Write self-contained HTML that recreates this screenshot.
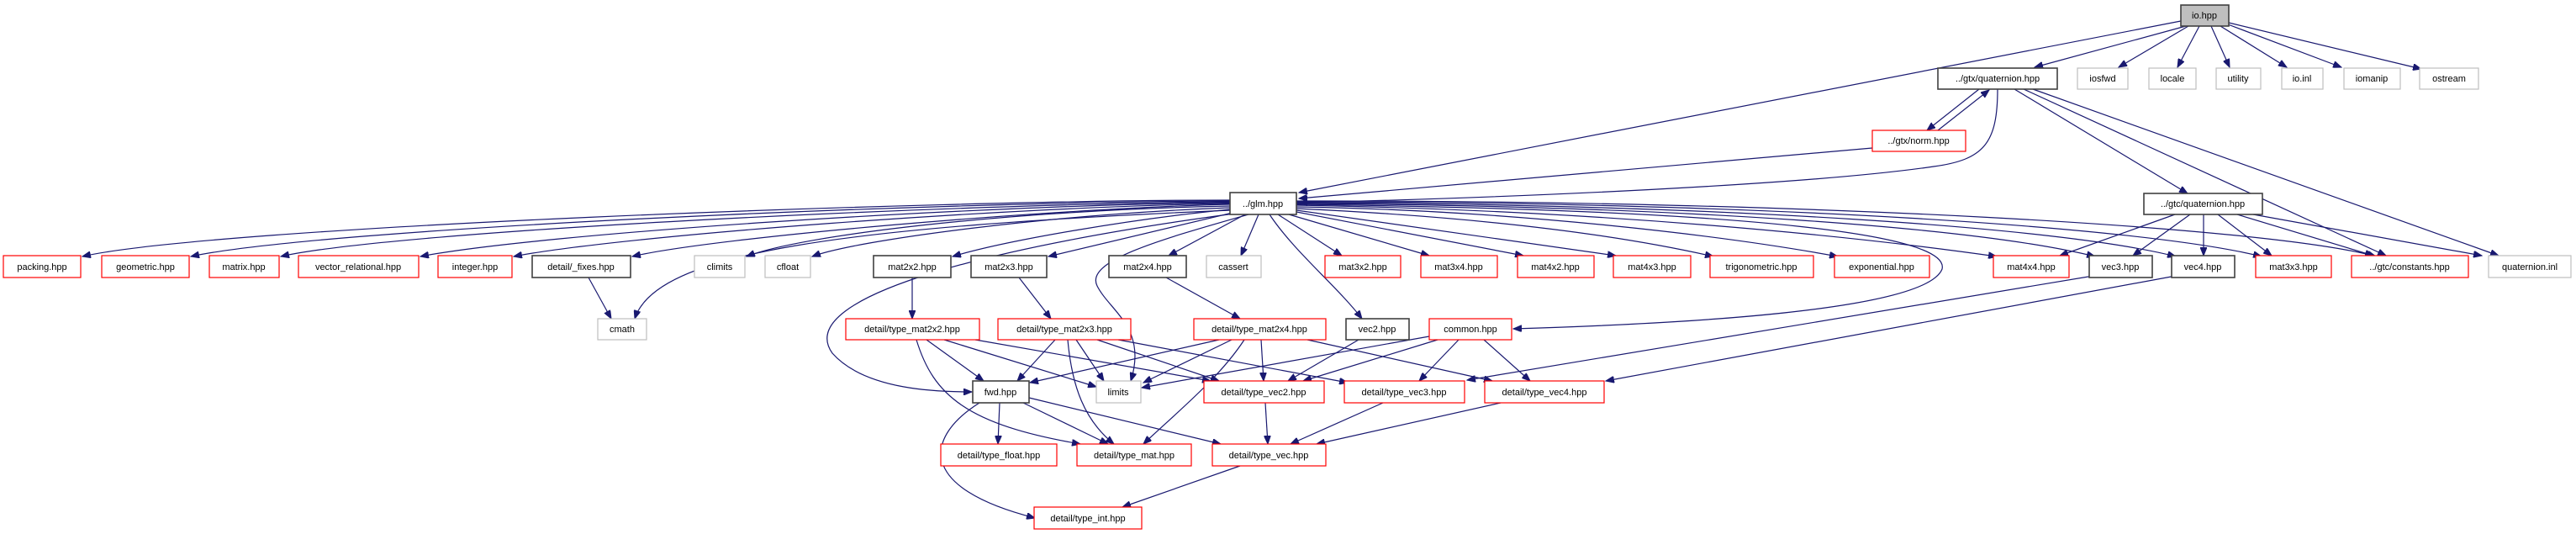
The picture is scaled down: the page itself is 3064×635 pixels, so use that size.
<!DOCTYPE html>
<html><head><meta charset="utf-8"><style>
html,body{margin:0;padding:0;background:#fff}
svg{display:block}
text{font-family:"Liberation Sans",sans-serif;font-size:11px;fill:#000;text-anchor:middle}
.r{fill:#fff;stroke:#ff0000;stroke-width:1.2}
.b{fill:#fff;stroke:#404040;stroke-width:1.6}
.g{fill:#fff;stroke:#bfbfbf;stroke-width:1.2}
.e path{fill:none;stroke:#191970;stroke-width:1.2;marker-end:url(#a)}
</style></head><body>
<svg width="3064" height="635" viewBox="0 0 3064 635" xmlns="http://www.w3.org/2000/svg">
<defs><marker id="a" markerUnits="userSpaceOnUse" markerWidth="11" markerHeight="8" refX="10" refY="4" orient="auto"><path d="M0,0 L10,4 L0,8 z" fill="#191970" stroke="#191970"/></marker></defs>
<g class="e">
<path d="M2594 25 L1545 229"/>
<path d="M2600 31 L2420 80"/>
<path d="M2603 31 L2520 80"/>
<path d="M2616 31 L2590 80"/>
<path d="M2630 31 L2652 80"/>
<path d="M2641 31 L2720 80"/>
<path d="M2650 29 L2785 80"/>
<path d="M2651 27 L2880 82"/>
<path d="M2354 106 L2292 155"/>
<path d="M2305 155 L2366 107"/>
<path d="M2376 106 C2376 170, 2360 190, 2300 198 C2150 220, 1800 235, 1545 241"/>
<path d="M2227 176 L1545 236"/>
<path d="M2396 106 L2602 230"/>
<path d="M2407 106 L2838 304"/>
<path d="M2418 106 L2972 304"/>
<path d="M2587 255 L2450 304"/>
<path d="M2605 255 L2537 304"/>
<path d="M2621 255 L2621 304"/>
<path d="M2638 255 L2702 304"/>
<path d="M2661 255 L2823 304"/>
<path d="M2680 255 L2952 304"/>
<path d="M1463 238 C1100 238, 250 270, 98 305"/>
<path d="M1463 239 C1100 240, 380 272, 227 305"/>
<path d="M1463 240 C1150 242, 470 274, 334 305"/>
<path d="M1463 241 C1150 244, 640 278, 500 305"/>
<path d="M1463 242 C1200 246, 740 280, 611 305"/>
<path d="M1463 243 C1250 248, 850 282, 752 305"/>
<path d="M1463 250 C1000 270, 780 300, 755 379"/>
<path d="M700 330 L727 379"/>
<path d="M1463 245 C1200 250, 950 280, 888 305"/>
<path d="M1463 247 C1250 255, 1020 285, 966 305"/>
<path d="M1463 249 C1350 260, 1200 285, 1133 305"/>
<path d="M1466 253 L1247 305"/>
<path d="M1481 255 L1390 304"/>
<path d="M1497 255 L1476 304"/>
<path d="M1510 255 C1540 300, 1590 340, 1620 379"/>
<path d="M1468 254 C1200 290, 940 350, 990 420 C1030 465, 1120 466, 1156 466"/>
<path d="M1485 255 C1380 285, 1290 310, 1305 340 C1320 370, 1365 390, 1345 453"/>
<path d="M1520 255 L1596 304"/>
<path d="M1533 255 L1700 304"/>
<path d="M1542 252 L1812 304"/>
<path d="M1542 250 L1922 304"/>
<path d="M1542 248 C1800 260, 1950 285, 2038 305"/>
<path d="M1542 246 C1800 250, 2050 280, 2186 305"/>
<path d="M1542 244 C1900 250, 2200 280, 2375 305"/>
<path d="M1542 242 C2000 245, 2350 270, 2492 305"/>
<path d="M1542 241 C2050 243, 2450 270, 2588 305"/>
<path d="M1542 240 C2100 240, 2550 270, 2690 305"/>
<path d="M1542 239 C2150 238, 2700 270, 2826 305"/>
<path d="M1542 243 C2100 250, 2320 280, 2310 320 C2290 370, 2000 385, 1800 391"/>
<path d="M1085 330 L1085 379"/>
<path d="M1212 330 L1250 379"/>
<path d="M1387 330 L1475 379"/>
<path d="M1102 404 L1170 453"/>
<path d="M1123 404 L1304 460"/>
<path d="M1160 404 L1440 453"/>
<path d="M1090 404 C1110 470, 1150 505, 1285 528"/>
<path d="M1255 404 L1210 453"/>
<path d="M1270 404 C1275 460, 1290 500, 1325 528"/>
<path d="M1280 404 L1313 453"/>
<path d="M1305 404 L1450 453"/>
<path d="M1330 404 L1603 455"/>
<path d="M1450 404 L1225 455"/>
<path d="M1465 404 L1360 455"/>
<path d="M1480 404 C1450 450, 1400 490, 1360 528"/>
<path d="M1500 404 L1503 453"/>
<path d="M1555 404 L1775 453"/>
<path d="M1616 404 L1532 453"/>
<path d="M1700 400 L1358 461"/>
<path d="M1710 404 L1550 453"/>
<path d="M1735 404 L1688 453"/>
<path d="M1765 404 L1820 453"/>
<path d="M2490 328 L1745 452"/>
<path d="M2588 328 L1910 453"/>
<path d="M1189 479 L1187 528"/>
<path d="M1217 479 L1318 528"/>
<path d="M1224 473 L1452 528"/>
<path d="M1165 479 C1100 520, 1090 580, 1231 616"/>
<path d="M1505 479 L1508 528"/>
<path d="M1645 479 L1535 528"/>
<path d="M1785 479 L1566 528"/>
<path d="M1475 554 L1335 603"/>
</g>
<g>
<rect x="2594" y="6" width="57" height="25" style="fill:#bfbfbf;stroke:#404040;stroke-width:1.6"/><text x="2622" y="22">io.hpp</text>
<rect class="b" x="2305" y="81" width="142" height="25"/><text x="2376" y="97">../gtx/quaternion.hpp</text>
<rect class="g" x="2471" y="81" width="60" height="25"/><text x="2501" y="97">iosfwd</text>
<rect class="g" x="2556" y="81" width="56" height="25"/><text x="2584" y="97">locale</text>
<rect class="g" x="2636" y="81" width="53" height="25"/><text x="2662" y="97">utility</text>
<rect class="g" x="2714" y="81" width="49" height="25"/><text x="2738" y="97">io.inl</text>
<rect class="g" x="2788" y="81" width="67" height="25"/><text x="2821" y="97">iomanip</text>
<rect class="g" x="2878" y="81" width="70" height="25"/><text x="2913" y="97">ostream</text>
<rect class="r" x="2227" y="155" width="111" height="25"/><text x="2282" y="171">../gtx/norm.hpp</text>
<rect class="b" x="1463" y="229" width="79" height="26"/><text x="1502" y="246">../glm.hpp</text>
<rect class="b" x="2550" y="230" width="141" height="25"/><text x="2620" y="246">../gtc/quaternion.hpp</text>

<rect class="r" x="4" y="304" width="92" height="26"/><text x="50" y="321">packing.hpp</text>
<rect class="r" x="121" y="304" width="104" height="26"/><text x="173" y="321">geometric.hpp</text>
<rect class="r" x="249" y="304" width="83" height="26"/><text x="290" y="321">matrix.hpp</text>
<rect class="r" x="355" y="304" width="143" height="26"/><text x="426" y="321">vector_relational.hpp</text>
<rect class="r" x="521" y="304" width="88" height="26"/><text x="565" y="321">integer.hpp</text>
<rect class="b" x="633" y="304" width="117" height="26"/><text x="691" y="321">detail/_fixes.hpp</text>
<rect class="g" x="826" y="304" width="60" height="26"/><text x="856" y="321">climits</text>
<rect class="g" x="910" y="304" width="54" height="26"/><text x="937" y="321">cfloat</text>
<rect class="b" x="1039" y="304" width="92" height="26"/><text x="1085" y="321">mat2x2.hpp</text>
<rect class="b" x="1155" y="304" width="90" height="26"/><text x="1200" y="321">mat2x3.hpp</text>
<rect class="b" x="1319" y="304" width="92" height="26"/><text x="1365" y="321">mat2x4.hpp</text>
<rect class="g" x="1435" y="304" width="65" height="26"/><text x="1467" y="321">cassert</text>
<rect class="r" x="1576" y="304" width="90" height="26"/><text x="1621" y="321">mat3x2.hpp</text>
<rect class="r" x="1690" y="304" width="91" height="26"/><text x="1735" y="321">mat3x4.hpp</text>
<rect class="r" x="1805" y="304" width="91" height="26"/><text x="1850" y="321">mat4x2.hpp</text>
<rect class="r" x="1919" y="304" width="92" height="26"/><text x="1965" y="321">mat4x3.hpp</text>
<rect class="r" x="2034" y="304" width="123" height="26"/><text x="2095" y="321">trigonometric.hpp</text>
<rect class="r" x="2182" y="304" width="113" height="26"/><text x="2238" y="321">exponential.hpp</text>
<rect class="r" x="2371" y="304" width="90" height="26"/><text x="2416" y="321">mat4x4.hpp</text>
<rect class="b" x="2485" y="304" width="75" height="26"/><text x="2522" y="321">vec3.hpp</text>
<rect class="b" x="2583" y="304" width="75" height="26"/><text x="2620" y="321">vec4.hpp</text>
<rect class="r" x="2683" y="304" width="90" height="26"/><text x="2728" y="321">mat3x3.hpp</text>
<rect class="r" x="2797" y="304" width="139" height="26"/><text x="2866" y="321">../gtc/constants.hpp</text>
<rect class="g" x="2960" y="304" width="98" height="26"/><text x="3009" y="321">quaternion.inl</text>

<rect class="g" x="711" y="379" width="58" height="25"/><text x="740" y="395">cmath</text>
<rect class="r" x="1006" y="379" width="159" height="25"/><text x="1085" y="395">detail/type_mat2x2.hpp</text>
<rect class="r" x="1187" y="379" width="158" height="25"/><text x="1266" y="395">detail/type_mat2x3.hpp</text>
<rect class="r" x="1420" y="379" width="157" height="25"/><text x="1498" y="395">detail/type_mat2x4.hpp</text>
<rect class="b" x="1601" y="379" width="75" height="25"/><text x="1638" y="395">vec2.hpp</text>
<rect class="r" x="1700" y="379" width="98" height="25"/><text x="1749" y="395">common.hpp</text>

<rect class="b" x="1157" y="453" width="67" height="26"/><text x="1190" y="470">fwd.hpp</text>
<rect class="g" x="1304" y="453" width="53" height="26"/><text x="1330" y="470">limits</text>
<rect class="r" x="1432" y="453" width="143" height="26"/><text x="1503" y="470">detail/type_vec2.hpp</text>
<rect class="r" x="1599" y="453" width="143" height="26"/><text x="1670" y="470">detail/type_vec3.hpp</text>
<rect class="r" x="1766" y="453" width="142" height="26"/><text x="1837" y="470">detail/type_vec4.hpp</text>

<rect class="r" x="1119" y="528" width="138" height="26"/><text x="1188" y="545">detail/type_float.hpp</text>
<rect class="r" x="1281" y="528" width="136" height="26"/><text x="1349" y="545">detail/type_mat.hpp</text>
<rect class="r" x="1442" y="528" width="135" height="26"/><text x="1509" y="545">detail/type_vec.hpp</text>
<rect class="r" x="1230" y="603" width="128" height="26"/><text x="1294" y="620">detail/type_int.hpp</text>
</g>
</svg>
</body></html>
